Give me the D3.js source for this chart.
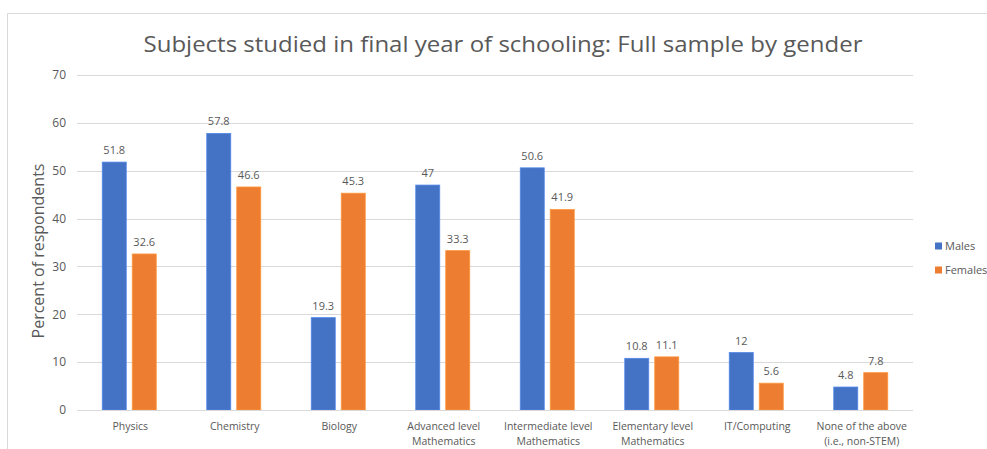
<!DOCTYPE html>
<html>
<head>
<meta charset="utf-8">
<script src="https://cdn.jsdelivr.net/npm/d3@7"></script>
<style>
  html, body { margin: 0; padding: 0; background: #fff; }
  svg { display: block; font-family: "Open Sans", "Liberation Sans", sans-serif; }
</style>
</head>
<body>
<svg id="chart" width="987" height="449"></svg>
<script>
// Categories (each may wrap onto two lines)
const categories = [
  ["Physics"],
  ["Chemistry"],
  ["Biology"],
  ["Advanced level", "Mathematics"],
  ["Intermediate level", "Mathematics"],
  ["Elementary level", "Mathematics"],
  ["IT/Computing"],
  ["None of the above", "(i.e., non-STEM)"]
];
const males   = [51.8, 57.8, 19.3, 47, 50.6, 10.8, 12, 4.8];
const females = [32.6, 46.6, 45.3, 33.3, 41.9, 11.1, 5.6, 7.8];
const seriesNames = ["Males", "Females"];
const seriesColors = ["#4472C4", "#ED7D31"];
const yTicks = [0, 10, 20, 30, 40, 50, 60, 70];

const svg = d3.select("#chart");
const W = 987, H = 449;
const plot = { left: 77, right: 913, top: 75, bottom: 410 };

// outer chart frame (top and left edges visible)
svg.append("path")
  .attr("d", `M7.5,${H} V13.5 H${W}`)
  .attr("fill", "none").attr("stroke", "#d9d9d9").attr("stroke-width", 1);

const x0 = d3.scaleBand()
  .domain(d3.range(categories.length))
  .range([plot.left, plot.right])
  .paddingInner(0).paddingOuter(0);
const barW = 24, gap = 6;
const x1 = d3.scaleBand().domain([0, 1]).range([0, barW * 2 + gap]).paddingInner(gap / (barW + gap));
const y = d3.scaleLinear().domain([0, 70]).range([plot.bottom, plot.top]);

// gridlines
svg.append("g").selectAll("line").data(yTicks).join("line")
  .attr("x1", plot.left).attr("x2", plot.right)
  .attr("y1", d => Math.round(y(d)) + 0.5).attr("y2", d => Math.round(y(d)) + 0.5)
  .attr("stroke", "#d9d9d9").attr("stroke-width", 1);

// y axis tick labels
const yAxis = d3.axisLeft(y).tickValues(yTicks).tickSize(0).tickPadding(0);
const gy = svg.append("g").attr("transform", `translate(${plot.left - 11},0)`).call(yAxis);
gy.select(".domain").remove();
gy.selectAll("text").attr("fill", "#595959").attr("font-size", 12)
  .attr("font-family", "'Open Sans', sans-serif");

// y axis title
svg.append("text")
  .attr("transform", `translate(44,251) rotate(-90)`)
  .attr("text-anchor", "middle")
  .attr("fill", "#595959").attr("font-size", 16)
  .text("Percent of respondents");

// title
svg.append("text")
  .attr("x", 503).attr("y", 52)
  .attr("text-anchor", "middle")
  .attr("fill", "#595959").attr("font-size", 22)
  .attr("font-family", "'Open Sans', sans-serif")
  .attr("textLength", 719).attr("lengthAdjust", "spacingAndGlyphs")
  .text("Subjects studied in final year of schooling: Full sample by gender");

// bars
const series = [males, females];
const groupOffset = (x0.bandwidth() - (barW * 2 + gap)) / 2;
series.forEach((vals, s) => {
  const g = svg.append("g");
  g.selectAll("rect").data(vals).join("rect")
    .attr("x", (d, i) => x0(i) + groupOffset + x1(s))
    .attr("width", x1.bandwidth())
    .attr("y", d => y(d))
    .attr("height", d => y(0) - y(d))
    .attr("fill", seriesColors[s])
    .attr("stroke", d3.color(seriesColors[s]).brighter(0.5))
    .attr("stroke-width", 0.8);
  g.selectAll("text").data(vals).join("text")
    .attr("x", (d, i) => x0(i) + groupOffset + x1(s) + x1.bandwidth() / 2)
    .attr("y", d => y(d) - 8)
    .attr("text-anchor", "middle")
    .attr("fill", "#595959").attr("font-size", 11)
    .text(d => d);
});

// baseline
svg.append("line")
  .attr("x1", plot.left).attr("x2", plot.right)
  .attr("y1", plot.bottom + 0.5).attr("y2", plot.bottom + 0.5)
  .attr("stroke", "#d9d9d9");

// category labels
const cat = svg.append("g").selectAll("text").data(categories).join("text")
  .attr("text-anchor", "middle")
  .attr("fill", "#595959").attr("font-size", 10.5)
  .attr("x", (d, i) => x0(i) + x0.bandwidth() / 2 + 1)
  .attr("y", 430);
cat.selectAll("tspan").data(d => d).join("tspan")
  .attr("x", function () { return this.parentNode.getAttribute("x"); })
  .attr("dy", (d, j) => j === 0 ? 0 : 15)
  .text(d => d);

// legend
const legend = svg.append("g").selectAll("g").data(seriesNames).join("g")
  .attr("transform", (d, i) => `translate(935,${246 + i * 24})`);
legend.append("rect")
  .attr("x", 0).attr("y", -3.5).attr("width", 7).attr("height", 7)
  .attr("fill", (d, i) => seriesColors[i]);
legend.append("text")
  .attr("x", 10).attr("y", 4)
  .attr("fill", "#595959").attr("font-size", 11)
  .text(d => d);
</script>
</body>
</html>
